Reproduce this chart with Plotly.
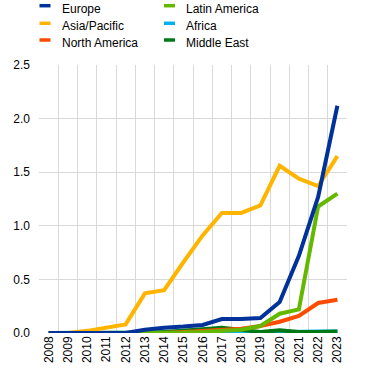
import plotly.graph_objects as go

years = [str(y) for y in range(2008, 2024)]
europe = [0, 0, 0, 0, 0.0, 0.03, 0.05, 0.06, 0.075, 0.13, 0.13, 0.14, 0.29, 0.72, 1.27, 2.12]
asia_pacific = [0, 0, 0.02, 0.05, 0.08, 0.37, 0.40, 0.66, 0.91, 1.12, 1.12, 1.19, 1.56, 1.44, 1.37, 1.65]
north_america = [0, 0, 0, 0, 0, 0, 0, 0.01, 0.02, 0.03, 0.04, 0.065, 0.105, 0.16, 0.28, 0.31]
latin_america = [0, 0, 0, 0, 0, 0, 0, 0.005, 0.01, 0.02, 0.03, 0.065, 0.18, 0.22, 1.18, 1.30]
africa = [0, 0, 0, 0, 0, 0, 0, 0.005, 0.01, 0.012, 0.01, 0.005, 0.01, 0.01, 0.015, 0.015]
middle_east = [0, 0, 0, 0, 0, 0, 0.01, 0.02, 0.035, 0.05, 0.03, 0.01, 0.025, 0.01, 0.01, 0.015]

# name, values, colour, z-order, legend column, legend row
series = [
    ("Europe", europe, "#003299", 6, 0, 0),
    ("Asia/Pacific", asia_pacific, "#FFB400", 5, 0, 1),
    ("North America", north_america, "#FF4B00", 3, 0, 2),
    ("Latin America", latin_america, "#65B800", 4, 1, 0),
    ("Africa", africa, "#00B1EA", 1, 1, 1),
    ("Middle East", middle_east, "#007816", 2, 1, 2),
]

W, H = 371, 373
ML, MR, MT, MB = 39, 24, 65, 40
PW, PH = W - ML - MR, H - MT - MB


def px_x(p):
    return (p - ML) / PW


def px_y(p):
    return 1 + (MT - p) / PH


fig = go.Figure()
for name, vals, color, z, c, r in series:
    fig.add_trace(go.Scatter(x=years, y=vals, mode="lines", name=name,
                             line=dict(color=color, width=4), showlegend=False, zorder=z))

# legend (two columns, three rows) drawn as swatches + text
sw_x = [(39.5, 50.5), (164, 175)]
sw_y = [5.7, 23.3, 40.0]
txt_x = [60, 184]
txt_y = [9.3, 26.3, 43.3]
annotations, shapes = [], []
for name, vals, color, z, c, r in series:
    shapes.append(dict(type="line", xref="paper", yref="paper",
                       x0=px_x(sw_x[c][0]), x1=px_x(sw_x[c][1]),
                       y0=px_y(sw_y[r]), y1=px_y(sw_y[r]),
                       line=dict(color=color, width=3.5)))
    annotations.append(dict(text=name, xref="paper", yref="paper",
                            x=px_x(txt_x[c]), y=px_y(txt_y[r]),
                            xanchor="left", yanchor="middle", showarrow=False,
                            font=dict(size=12, color="#000000")))

fig.update_layout(
    width=W, height=H,
    margin=dict(l=ML, r=MR, t=MT, b=MB, autoexpand=False),
    paper_bgcolor="white", plot_bgcolor="white",
    showlegend=False,
    font=dict(family="Liberation Sans, Arial, sans-serif", size=12, color="#000000"),
    xaxis=dict(type="category", tickson="boundaries", showgrid=True, gridcolor="#d9d9d9",
               gridwidth=1, ticks="", tickangle=-90, range=[-0.5, 15.5],
               showline=False, zeroline=False),
    yaxis=dict(range=[0, 2.5], dtick=0.5, tickformat=".1f", showgrid=True,
               gridcolor="#d9d9d9", gridwidth=1, zeroline=False, ticks="",
               showline=False, ticklabelstandoff=8),
    annotations=annotations,
    shapes=shapes,
)
fig.write_html("out.html", config={"displayModeBar": False},
               post_script="document.body.style.margin='0';")
